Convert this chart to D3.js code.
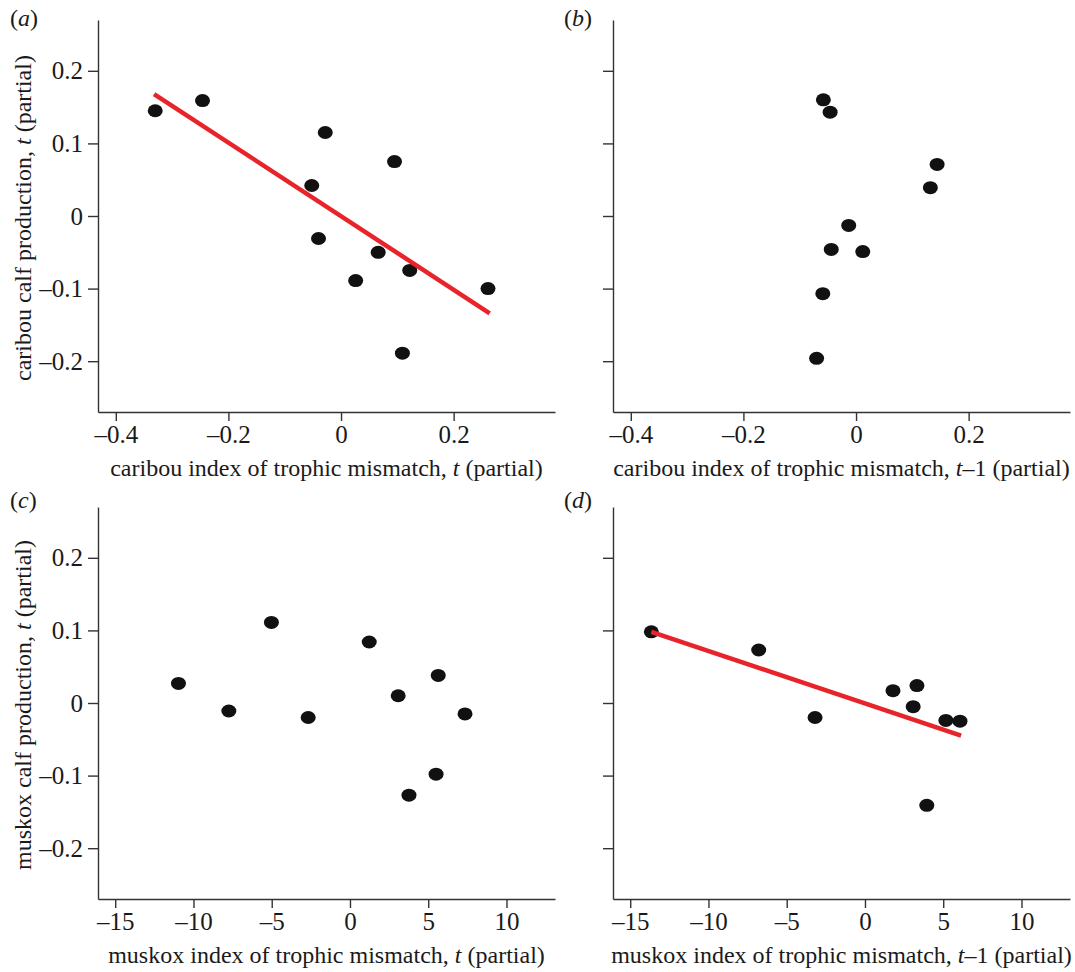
<!DOCTYPE html>
<html>
<head>
<meta charset="utf-8">
<script src="https://cdn.jsdelivr.net/npm/d3@7"></script>
<style>
  body { margin: 0; background: #fff; }
  svg { display: block; }
  text { font-family: "Liberation Serif", "Times New Roman", serif; fill: #1a1a1a; }
</style>
</head>
<body>
<svg id="chart" width="1075" height="972"></svg>
<script>
// values
const caribouMismatchT  = [-0.330, -0.246, -0.028, 0.095, -0.052, -0.040, 0.066, 0.026, 0.122, 0.261, 0.109];
const caribouCalfA      = [0.145, 0.159, 0.115, 0.075, 0.042, -0.031, -0.050, -0.089, -0.075, -0.100, -0.189];
const caribouMismatchT1 = [-0.058, -0.046, 0.144, 0.132, -0.013, -0.044, 0.012, -0.059, -0.070];
const caribouCalfB      = [0.160, 0.143, 0.071, 0.039, -0.013, -0.046, -0.049, -0.107, -0.196];
const muskoxMismatchT   = [-10.96, -7.74, -5.02, -2.67, 1.23, 3.08, 5.64, 7.35, 5.50, 3.77];
const muskoxCalfC       = [0.027, -0.011, 0.111, -0.020, 0.084, 0.010, 0.038, -0.015, -0.098, -0.127];
const muskoxMismatchT1  = [-13.65, -6.79, -3.19, 1.79, 3.32, 3.08, 5.17, 6.07, 3.95];
const muskoxCalfD       = [0.098, 0.073, -0.020, 0.017, 0.024, -0.005, -0.024, -0.025, -0.141];

// fitted lines (end points)
const fitA = [[-0.332, 0.168], [0.264, -0.134]];
const fitD = [[-13.65, 0.098], [6.14, -0.045]];

const caribouXTicks = [-0.4, -0.2, 0, 0.2];
const muskoxXTicks = [-15, -10, -5, 0, 5, 10];
const yTicks = [-0.2, -0.1, 0, 0.1, 0.2];

const caribouXDomain = [-0.4316, 0.38];
const muskoxXDomain = [-16.1, 13.1];
const yDomain = [-0.27, 0.27];

const svg = d3.select("#chart");
const red = "#e8242b";

// en dash for negatives, like the print figure
const fmt = d => d === 0 ? "0" : (d < 0 ? "\u2013" : "") + String(Math.abs(d));

function panel(opts) {
    const x = d3.scaleLinear().domain(opts.xDomain).range([opts.left, opts.left + 457]);
    const y = d3.scaleLinear().domain(yDomain).range([opts.top + 392, opts.top]);
    const g = svg.append("g");

    const xAxis = d3.axisBottom(x).tickValues(opts.xTicks).tickFormat(fmt)
                    .tickSize(9).tickSizeOuter(0).tickPadding(4);
    const yAxis = d3.axisLeft(y).tickValues(yTicks).tickSize(10).tickSizeOuter(0).tickPadding(5)
                    .tickFormat(opts.yLabels ? fmt : "");

    const gx = g.append("g").attr("transform", `translate(0,${opts.top + 392})`).call(xAxis);
    const gy = g.append("g").attr("transform", `translate(${opts.left},0)`).call(yAxis);
    [gx, gy].forEach(a => {
        a.attr("font-family", null).attr("font-size", null);
        a.selectAll("path, line").attr("stroke", "#333").attr("stroke-width", 1.4);
        a.selectAll("text").style("font-size", "25px").attr("fill", "#1a1a1a");
    });

    // dots
    g.selectAll("ellipse").data(d3.zip(opts.xs, opts.ys)).join("ellipse")
        .attr("cx", d => x(d[0])).attr("cy", d => y(d[1]))
        .attr("rx", 7.5).attr("ry", 6.5).attr("fill", "#111");

    if (opts.fit) {
        g.append("line")
            .attr("x1", x(opts.fit[0][0])).attr("y1", y(opts.fit[0][1]))
            .attr("x2", x(opts.fit[1][0])).attr("y2", y(opts.fit[1][1]))
            .attr("stroke", red).attr("stroke-width", 4.5);
    }

    // x title
    const xt = g.append("text").attr("x", opts.left + 228.5).attr("y", opts.top + 456)
        .attr("text-anchor", "middle").style("font-size", "24px");
    xt.append("tspan").text(opts.xTitle[0]);
    xt.append("tspan").style("font-style", "italic").text("t");
    xt.append("tspan").text(opts.xTitle[1]);

    // y title
    if (opts.yTitle) {
        const yt = g.append("text")
            .attr("transform", `translate(31,${opts.top + 198}) rotate(-90)`)
            .attr("text-anchor", "middle").style("font-size", "24px");
        yt.append("tspan").text(opts.yTitle[0]);
        yt.append("tspan").style("font-style", "italic").text("t");
        yt.append("tspan").text(opts.yTitle[1]);
    }

    // panel letter
    const lt = g.append("text").attr("x", opts.letterX).attr("y", opts.letterY).style("font-size", "24px");
    lt.append("tspan").text("(");
    lt.append("tspan").style("font-style", "italic").text(opts.letter);
    lt.append("tspan").text(")");
}

panel({ left: 98, top: 20, xDomain: caribouXDomain, xTicks: caribouXTicks, yLabels: true,
        xs: caribouMismatchT, ys: caribouCalfA, fit: fitA, letter: "a", letterX: 10, letterY: 26,
        xTitle: ["caribou index of trophic mismatch, ", " (partial)"],
        yTitle: ["caribou calf production, ", " (partial)"] });
panel({ left: 613, top: 20, xDomain: caribouXDomain, xTicks: caribouXTicks, yLabels: false,
        xs: caribouMismatchT1, ys: caribouCalfB, letter: "b", letterX: 564, letterY: 26,
        xTitle: ["caribou index of trophic mismatch, ", "\u20131 (partial)"] });
panel({ left: 98, top: 507, xDomain: muskoxXDomain, xTicks: muskoxXTicks, yLabels: true,
        xs: muskoxMismatchT, ys: muskoxCalfC, letter: "c", letterX: 10, letterY: 508,
        xTitle: ["muskox index of trophic mismatch, ", " (partial)"],
        yTitle: ["muskox calf production, ", " (partial)"] });
panel({ left: 613, top: 507, xDomain: muskoxXDomain, xTicks: muskoxXTicks, yLabels: false,
        xs: muskoxMismatchT1, ys: muskoxCalfD, fit: fitD, letter: "d", letterX: 564, letterY: 508,
        xTitle: ["muskox index of trophic mismatch, ", "\u20131 (partial)"] });
</script>
</body>
</html>
